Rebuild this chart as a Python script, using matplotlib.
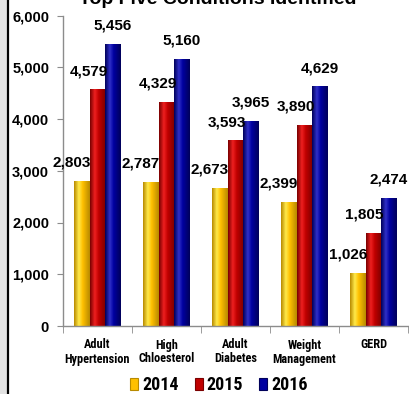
import numpy as np
import matplotlib
matplotlib.use("Agg")
import matplotlib.pyplot as plt
from matplotlib.colors import LinearSegmentedColormap
from matplotlib.patches import Patch, Rectangle
from matplotlib.lines import Line2D

categories = ["Adult\nHypertension", "High\nChloesterol", "Adult\nDiabetes",
              "Weight\nManagement", "GERD"]
years = ["2014", "2015", "2016"]
vals_2014 = [2803, 2787, 2673, 2399, 1026]
vals_2015 = [4579, 4329, 3593, 3890, 1805]
vals_2016 = [5456, 5160, 3965, 4629, 2474]
yticks = [0, 1000, 2000, 3000, 4000, 5000, 6000]
title = "Top Five Conditions Identified"

# edge / highlight / body colours for the shaded bars
shades = [("#b88a00", "#ffe94a", "#ffc000"),
          ("#7a0000", "#ee2020", "#c00000"),
          ("#00005a", "#3030c8", "#0000a0")]
label_dx = [-10, -9, 0]   # pixel shift of value labels per series

narrow = ["Roboto Condensed", "Liberation Sans", "DejaVu Sans"]
plain = ["Liberation Sans", "DejaVu Sans"]

fig = plt.figure(figsize=(4.09, 3.94), dpi=100)
ax = fig.add_axes([63 / 409, 68 / 394, 346 / 409, 310.5 / 394])

x = np.arange(len(categories))
w = 0.225
series = [vals_2014, vals_2015, vals_2016]

for i, vals in enumerate(series):
    dark, light, body = shades[i]
    cmap = LinearSegmentedColormap.from_list(
        "c%d" % i, [(0, dark), (0.3, light), (0.55, body), (1, dark)])
    grad = np.linspace(0, 1, 64).reshape(1, -1)
    bars = ax.bar(x + (i - 1) * w, vals, w, facecolor="none", edgecolor="none")
    for b, v in zip(bars, vals):
        x0 = b.get_x()
        im = ax.imshow(grad, cmap=cmap, aspect="auto",
                       extent=(x0, x0 + w, 0, v), zorder=2)
        im.set_clip_path(b)
        ax.annotate(f"{v:,}", (x0 + w / 2, v), xytext=(label_dx[i], 18),
                    textcoords="offset pixels", ha="center", va="center",
                    fontsize=11, fontweight="bold", family=plain, zorder=5,
                    annotation_clip=False)

ax.set_xlim(-0.5, 4.515)
ax.set_ylim(0, 6000)

for s in ["top", "right"]:
    ax.spines[s].set_visible(False)
for s in ["left", "bottom"]:
    ax.spines[s].set_color("#8c8c8c")
    ax.spines[s].set_linewidth(1.0)

ax.set_yticks(yticks)
ax.set_yticklabels([f"{t:,}" for t in yticks], fontsize=10.5,
                   fontweight="bold", family=plain)
ax.tick_params(axis="y", length=4, color="#8c8c8c", pad=6)

ax.set_xticks(x)
ax.set_xticklabels(categories, fontsize=8.8, fontweight="bold",
                   family=narrow, linespacing=1.1)
ax.set_xticks(np.arange(-0.5, 5, 1), minor=True)
ax.tick_params(axis="x", which="major", length=0, pad=9)
ax.tick_params(axis="x", which="minor", length=5, color="#8c8c8c")

handles = [Patch(facecolor=s[2], edgecolor=s[0], linewidth=0.8) for s in shades]
fig.legend(handles, years, loc="center", bbox_to_anchor=(0.535, 9 / 394),
           ncol=3, frameon=False, handlelength=0.45, handleheight=0.65,
           handletextpad=0.2, columnspacing=0.9,
           prop={"family": narrow, "weight": "bold", "size": 13})

fig.text(218 / 409, 1 - 4 / 394, title, ha="center", va="baseline",
         fontsize=14, fontweight="bold", family=plain)

# grey strip and dark rule down the left edge
fig.add_artist(Rectangle((0, 0), 6.5 / 409, 1, transform=fig.transFigure,
                         facecolor="#e2e2e2", edgecolor="none"))
fig.add_artist(Line2D([7.5 / 409, 7.5 / 409], [0, 1], transform=fig.transFigure,
                      color="black", linewidth=1.6))

fig.savefig("out.png", dpi=100)
